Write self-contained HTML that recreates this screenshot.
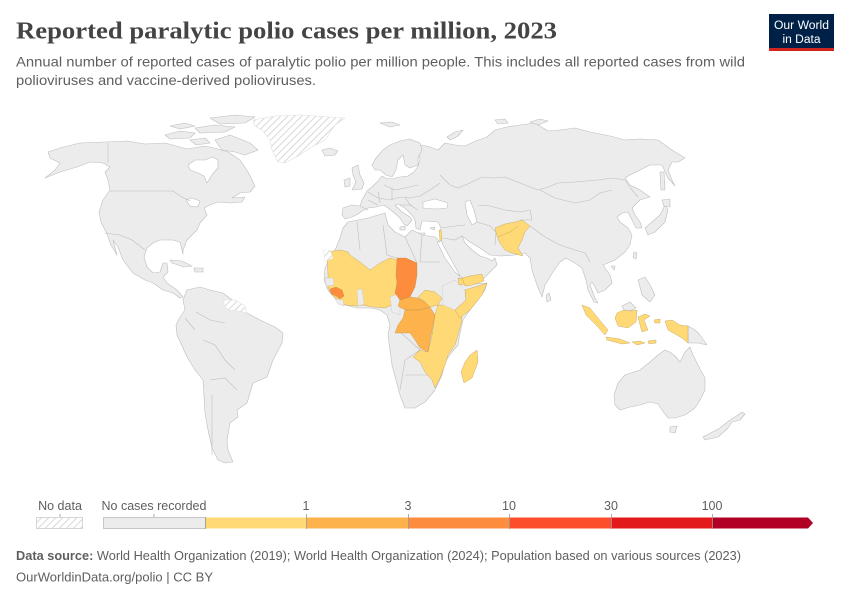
<!DOCTYPE html>
<html><head><meta charset="utf-8"><style>
html,body{margin:0;padding:0;background:#fff;}
svg{display:block;}
.t{font-family:"Liberation Sans",sans-serif;}
</style></head><body>
<svg width="850" height="600" viewBox="0 0 850 600" xmlns="http://www.w3.org/2000/svg">
<defs>
<pattern id="h" patternUnits="userSpaceOnUse" width="5" height="5" patternTransform="rotate(45)">
<rect width="5" height="5" fill="#fff"/><line x1="0" y1="0" x2="0" y2="5" stroke="#d8d8d8" stroke-width="2"/>
</pattern>
</defs>
<rect width="850" height="600" fill="#fff"/>

<text x="16" y="38.5" font-family="Liberation Serif,serif" font-size="24.5" font-weight="bold" fill="#444" textLength="541" lengthAdjust="spacingAndGlyphs">Reported paralytic polio cases per million, 2023</text>
<text class="t" x="16" y="66.5" font-size="14" fill="#5f5f5f" textLength="729" lengthAdjust="spacingAndGlyphs">Annual number of reported cases of paralytic polio per million people. This includes all reported cases from wild</text>
<text class="t" x="16" y="85" font-size="14" fill="#5f5f5f" textLength="300" lengthAdjust="spacingAndGlyphs">polioviruses and vaccine-derived polioviruses.</text>

<rect x="769" y="14" width="65" height="35" fill="#002147"/>
<rect x="769" y="48" width="65" height="3" fill="#ce261e"/>
<text class="t" x="801.5" y="29" font-size="11.5" fill="#fff" text-anchor="middle" textLength="55" lengthAdjust="spacingAndGlyphs">Our World</text>
<text class="t" x="801.5" y="43" font-size="11.5" fill="#fff" text-anchor="middle" textLength="38" lengthAdjust="spacingAndGlyphs">in Data</text>

<g stroke="#bdbdbd" stroke-width="0.6" stroke-linejoin="round" fill="#ececec">
<!-- North America -->
<path d="M80,143 L105,142 L127,141 L145,144 L165,143 L187,149 L205,146 L218,149 L228,152 L240,160 L248,172 L255,186 L250,192 L240,193 L232,198 L245,197 L242,202 L230,203 L218,202 L210,205 L204,208 L207,215 L200,223 L197,230 L187,240 L183,250 L183,254 L180,242 L173,240 L160,240 L153,243 L147,248 L144,257 L147,267 L153,273 L160,272 L163,263 L167,263 L168,272 L163,277 L167,283 L177,290 L183,297 L180,298 L173,293 L163,290 L153,283 L145,280 L133,273 L123,260 L118,247 L113,240 L117,255 L111,245 L107,234 L101,222 L99,212 L103,200 L110,190 L108,180 L105,172 L110,167 L103,163 L90,162 L77,167 L60,172 L45,178 L55,170 L60,163 L50,158 L48,152 L60,148 Z"/>
<path fill="#fff" d="M188,165 L195,160 L205,160 L213,157 L218,160 L218,168 L212,175 L207,183 L204,176 L198,173 L190,170 Z"/>
<path fill="#fff" d="M186,200 L192,198 L200,201 L198,207 L190,206 Z"/>
<!-- Arctic islands -->
<path d="M215,140 L230,135 L250,143 L258,150 L245,155 L235,152 L222,150 Z"/>
<path d="M165,135 L180,131 L195,133 L190,138 L170,139 Z"/>
<path d="M195,128 L215,125 L235,127 L225,132 L200,133 Z"/>
<path d="M170,126 L185,123 L195,126 L180,129 Z"/>
<path d="M210,118 L235,115 L255,117 L245,123 L220,124 Z"/>
<path d="M190,140 L205,138 L210,143 L196,145 Z"/>
<!-- Caribbean -->
<path d="M170,260 L182,261 L192,266 L184,267 L172,263 Z"/>
<path d="M194,268 L203,268 L203,272 L195,272 Z"/>
<!-- Greenland -->
<path fill="url(#h)" stroke="#e0e0e0" d="M253,120 L275,116 L300,115 L345,118 L335,125 L325,140 L310,148 L300,155 L285,163 L278,162 L272,150 L270,140 L262,130 L255,126 Z"/>
<!-- Iceland -->
<path d="M322,150 L330,148 L338,151 L335,155 L325,156 Z"/>
<path d="M380,123 L392,122 L400,125 L390,127 Z"/>
<!-- South America -->
<path d="M187,290 L200,287 L210,290 L223,293 L235,302 L247,313 L260,320 L275,327 L283,333 L282,343 L273,360 L267,377 L253,383 L247,403 L237,410 L238,417 L230,423 L227,440 L228,450 L233,462 L225,463 L218,460 L212,448 L208,430 L205,413 L204,395 L203,380 L195,370 L187,357 L177,335 L176,325 L180,317 L185,310 L183,300 Z"/>
<path fill="url(#h)" stroke="#e0e0e0" d="M224,300 L235,300 L245,306 L247,313 L238,311 L228,310 L224,305 Z"/>
<!-- Eurasia -->
<path d="M342,215 L343,208 L352,205 L360,206 L362,200 L367,191 L373,186 L378,181 L382,176 L385,178 L392,179 L400,177 L408,176 L414,172 L418,166 L420,160 L418,150 L422,145 L430,147 L438,150 L445,143 L455,145 L465,146 L478,140 L487,137 L495,130 L507,127 L520,125 L535,123 L548,131 L560,130 L575,128 L590,132 L610,136 L625,140 L640,139 L658,140 L672,150 L685,158 L678,162 L672,162 L668,170 L672,180 L675,186 L668,178 L662,165 L650,165 L640,170 L630,175 L625,178 L630,185 L640,190 L650,197 L640,200 L635,205 L632,208 L635,215 L640,222 L642,228 L636,228 L632,220 L628,212 L622,213 L617,217 L620,222 L628,228 L632,235 L630,245 L625,252 L615,260 L608,263 L603,265 L610,275 L612,283 L605,290 L598,293 L595,287 L592,282 L590,285 L595,298 L598,303 L594,302 L588,290 L586,280 L582,268 L575,263 L566,258 L560,262 L553,272 L545,285 L542,297 L537,285 L532,270 L530,258 L525,253 L515,255 L500,256 L490,255 L480,248 L470,242 L462,236 L465,243 L472,250 L480,256 L487,258 L492,261 L495,258 L497,265 L490,272 L482,280 L472,285 L465,286 L462,280 L458,272 L453,263 L448,254 L443,245 L441,240 L440,235 L441,228 L438,222 L425,221 L422,221 L420,230 L416,228 L415,220 L412,215 L405,208 L398,204 L395,205 L402,212 L410,217 L412,220 L407,226 L404,224 L400,218 L392,211 L384,205 L376,207 L368,208 L362,211 L358,214 L352,217 L345,219 Z"/>
<path fill="#fff" d="M423,202 L435,199 L448,203 L447,208 L435,209 L423,208 Z"/>
<path fill="#fff" d="M465,202 L470,200 L474,210 L477,222 L472,225 L467,215 Z"/>
<path d="M400,227 L405,226 L405,230 L400,230 Z"/>
<path d="M418,233 L425,233 L424,235 L418,235 Z"/>
<path d="M430,228 L435,227 L434,230 Z"/>
<!-- Scandinavia -->
<path d="M372,165 L376,158 L383,150 L390,145 L400,141 L410,139 L420,143 L422,150 L418,158 L418,165 L410,168 L405,165 L403,155 L398,160 L396,170 L392,177 L386,175 L380,170 L375,170 Z"/>
<!-- UK / Ireland -->
<path d="M352,168 L358,165 L360,175 L364,183 L362,189 L352,190 L356,182 L353,175 Z"/>
<path d="M344,180 L350,178 L350,186 L345,187 Z"/>
<!-- Russian arctic islands -->
<path d="M447,137 L455,132 L463,130 L458,136 L450,140 Z"/>
<path d="M530,122 L540,119 L548,121 L538,125 Z"/>
<path d="M495,120 L505,119 L508,123 L498,124 Z"/>
<!-- Japan etc -->
<path d="M645,228 L652,222 L660,215 L665,205 L668,210 L665,222 L655,232 L648,235 Z"/>
<path d="M662,200 L670,199 L670,207 L664,206 Z"/>
<path d="M660,172 L664,172 L665,190 L661,190 Z"/>
<path d="M634,252 L637,253 L636,259 L633,257 Z"/>
<path d="M611,266 L615,266 L614,270 Z"/>
<path d="M546,296 L549,293 L551,300 L547,302 Z"/>
<path d="M638,280 L645,277 L650,285 L655,295 L650,302 L642,295 L640,287 Z"/>
<!-- PNG gray -->
<path d="M688,326 L695,330 L700,335 L707,345 L698,343 L688,343 Z"/>
<path d="M622,306 L630,302 L636,308 L630,311 L624,310 Z"/>
<!-- Australia -->
<path d="M615,405 L614,395 L618,383 L625,375 L640,370 L650,362 L658,355 L665,350 L670,352 L675,356 L680,362 L685,352 L690,347 L693,355 L698,365 L705,378 L705,390 L700,400 L695,408 L685,415 L675,418 L668,418 L662,410 L658,404 L650,402 L640,405 L630,407 L620,410 Z"/>
<path d="M670,427 L677,426 L675,433 L670,432 Z"/>
<path d="M718,437 L705,440 L703,437 L720,428 L730,420 L738,415 L742,412 L745,414 L740,420 L732,422 L728,428 Z"/>
<!-- Africa -->
<path d="M343,228 L348,222 L358,220 L368,218 L378,215 L385,213 L388,225 L395,232 L405,237 L412,230 L422,235 L435,237 L440,242 L437,242 L441,250 L445,258 L450,265 L455,272 L462,278 L472,284 L487,283 L485,290 L478,300 L470,310 L463,320 L460,333 L458,345 L452,352 L445,362 L442,375 L435,390 L425,402 L415,408 L405,408 L400,395 L396,380 L392,365 L390,350 L388,335 L390,325 L387,315 L380,310 L370,308 L357,308 L345,305 L335,298 L328,290 L324,280 L325,268 L330,258 L336,248 L340,238 Z"/>
</g>

<!-- borders -->
<g fill="none" stroke="#bdbdbd" stroke-width="0.6">
<path d="M108,143 L108,163"/>
<path d="M110,191 L173,191 L180,196 L190,201"/>
<path d="M105,233 L120,235 L132,240 L145,250"/>
<path d="M440,175 L450,185 L458,188 L470,183 L482,177 L495,178 L505,177 L520,183 L538,190 L548,187 L558,183 L575,182 L598,180 L612,178 L625,180 L632,190 L638,197"/>
<path d="M540,190 L555,198 L575,203 L590,200 L600,193 L612,190"/>
<path d="M478,205 L490,206 L505,210 L520,212 L530,210"/>
<path d="M530,226 L545,237 L560,245 L575,250 L585,253 L590,262"/>
<path d="M530,210 L532,220 L520,220"/>
<path d="M477,222 L490,226 L496,232 L495,245"/>
<path d="M441,228 L455,226 L465,225"/>
<path d="M443,238 L455,240 L462,236"/>
<path d="M368,192 L378,198 L390,200 L400,197 L410,198 L420,196 L430,190 L440,183"/>
<path d="M384,185 L395,190 L405,188 L418,185"/>
<path d="M378,192 L380,203 M392,188 L392,200 M405,197 L410,205 L418,210 M400,205 L412,205"/>
<path d="M360,206 L368,210 M368,200 L378,205"/>
<path d="M383,225 L387,255 L397,258"/>
<path d="M405,237 L417,263"/>
<path d="M422,235 L420,262 L440,262"/>
<path d="M357,222 L360,250"/>
<path d="M398,330 L420,350 L405,360 L400,390"/>
<path d="M405,375 L430,375"/>
<path d="M196,312 L210,320 L225,323"/>
<path d="M203,340 L215,345 L225,360 L235,370"/>
<path d="M210,380 L225,378 L237,390"/>
<path d="M212,395 L212,455"/>
<path d="M185,318 L195,330"/>
</g>

<!-- coloured countries -->
<g stroke="#a88a4a" stroke-width="0.5" stroke-opacity="0.6" stroke-linejoin="round">
<path fill="#fed976" d="M327,252 L340,250 L348,252 L350,255 L360,262 L370,270 L380,263 L390,258 L397,260 L398,277 L396,290 L395,298 L392,305 L385,308 L372,307 L363,305 L357,306 L345,305 L338,300 L332,295 L328,288 L328,275 Z"/>
<path fill="url(#h)" stroke="#ddd" d="M323,250 L330,250 L333,258 L325,262 Z"/>
<path fill="#ececec" stroke="#bdbdbd" d="M325,278 L333,278 L334,285 L326,286 Z"/>
<path fill="#ececec" stroke="#bdbdbd" d="M335,299 L343,300 L344,306 L338,304 Z"/>
<path fill="#ececec" stroke="#bdbdbd" d="M357,290 L362,289 L364,304 L358,306 Z"/>
<path fill="#ececec" stroke="#bdbdbd" d="M390,297 L397,294 L400,302 L400,315 L392,312 Z"/>
<path fill="#fd8d3c" d="M330,289 L336,287 L342,290 L344,296 L340,299 L336,296 L331,294 Z"/>
<path fill="#fd8d3c" d="M397,258 L406,258 L417,263 L417,275 L415,287 L410,297 L400,300 L395,293 L397,283 L396,275 Z"/>
<path fill="#feb24c" d="M400,300 L410,297 L418,298 L425,302 L430,307 L420,310 L405,310 L398,306 Z"/>
<path fill="#feb24c" d="M405,310 L420,310 L430,307 L435,315 L432,330 L430,340 L428,352 L420,348 L415,340 L410,333 L395,333 L398,325 L403,318 Z"/>
<path fill="#fed976" d="M418,297 L425,290 L435,292 L442,298 L438,305 L430,307 L425,302 Z"/>
<path fill="#fed976" d="M438,305 L460,305 L462,320 L458,335 L455,345 L448,355 L445,365 L440,378 L435,388 L432,380 L425,372 L420,362 L413,357 L420,350 L428,352 L432,335 L435,315 Z"/>
<path fill="#ececec" stroke="#bdbdbd" d="M442,286 L455,280 L465,290 L466,300 L455,310 L443,305 Z"/>
<path fill="#fed976" d="M465,290 L487,283 L482,295 L470,310 L460,318 L455,310 L466,300 Z"/>
<path fill="#fed976" d="M458,278 L463,279 L465,284 L459,285 Z"/>
<path fill="#fed976" d="M470,355 L477,350 L478,362 L472,378 L464,383 L461,372 L465,362 Z"/>
<path fill="#fed976" d="M462,278 L470,276 L482,274 L484,281 L472,285 L465,286 Z"/>
<path fill="#fed976" d="M495,228 L505,224 L515,222 L522,220 L530,226 L525,232 L522,240 L518,248 L523,256 L512,253 L505,250 L500,243 L497,236 Z"/>
<path fill="none" d="M498,237 L510,232 L518,226"/>
<path fill="#fed976" d="M439,230 L441,230 L442,240 L440,241 Z"/>
<path fill="#fed976" d="M582,305 L590,308 L598,318 L608,330 L605,335 L596,325 L586,315 Z"/>
<path fill="#fed976" d="M606,337 L620,339 L630,343 L622,344 L607,340 Z"/>
<path fill="#fed976" d="M617,313 L624,310 L630,311 L637,310 L636,322 L628,328 L618,326 L615,318 Z"/>
<path fill="#fed976" d="M638,317 L645,314 L650,316 L644,320 L648,330 L642,332 L640,325 Z"/>
<path fill="#fed976" d="M632,342 L640,341 L645,343 L637,345 Z"/>
<path fill="#fed976" d="M648,341 L656,340 L656,343 L649,344 Z"/>
<path fill="#fed976" d="M654,320 L660,319 L660,323 L655,323 Z"/>
<path fill="#fed976" d="M665,321 L672,320 L680,325 L688,326 L688,343 L682,338 L675,334 L668,330 Z"/>
</g>

<!-- legend -->
<g class="t" font-size="12.5" fill="#5f5f5f" text-anchor="middle">
<text x="60" y="510">No data</text>
<text x="154" y="510">No cases recorded</text>
<text x="306" y="510">1</text>
<text x="408" y="510">3</text>
<text x="509" y="510">10</text>
<text x="611" y="510">30</text>
<text x="712" y="510">100</text>
</g>
<rect x="36.5" y="517.5" width="46" height="11" fill="url(#h)" stroke="#ccc" stroke-width="0.8"/>
<rect x="103.5" y="517.5" width="102" height="11" fill="#ececec" stroke="#bbb" stroke-width="0.8"/>
<rect x="205.5" y="517.5" width="101" height="11" fill="#fed976"/>
<rect x="306.5" y="517.5" width="102" height="11" fill="#feb24c"/>
<rect x="408.5" y="517.5" width="101" height="11" fill="#fd8d3c"/>
<rect x="509.5" y="517.5" width="102" height="11" fill="#fc4e2a"/>
<rect x="611.5" y="517.5" width="101" height="11" fill="#e31a1c"/>
<path d="M712.5,517.5 L808,517.5 L813,523 L808,528.5 L712.5,528.5 Z" fill="#b10026"/>
<g stroke="#999" stroke-width="0.8">
<line x1="60" y1="514" x2="60" y2="517"/>
<line x1="154" y1="514" x2="154" y2="517"/>
<line x1="205.5" y1="517" x2="205.5" y2="529"/>
<line x1="306.5" y1="514" x2="306.5" y2="529"/>
<line x1="408.5" y1="514" x2="408.5" y2="529"/>
<line x1="509.5" y1="514" x2="509.5" y2="529"/>
<line x1="611.5" y1="514" x2="611.5" y2="529"/>
<line x1="712.5" y1="514" x2="712.5" y2="529"/>
</g>

<!-- footer -->
<text class="t" x="16" y="560" font-size="12.5" fill="#5f5f5f" textLength="725" lengthAdjust="spacingAndGlyphs"><tspan font-weight="bold">Data source:</tspan> World Health Organization (2019); World Health Organization (2024); Population based on various sources (2023)</text>
<text class="t" x="16" y="581.5" font-size="12.5" fill="#5f5f5f" textLength="197" lengthAdjust="spacingAndGlyphs">OurWorldinData.org/polio | CC BY</text>
</svg>
</body></html>
